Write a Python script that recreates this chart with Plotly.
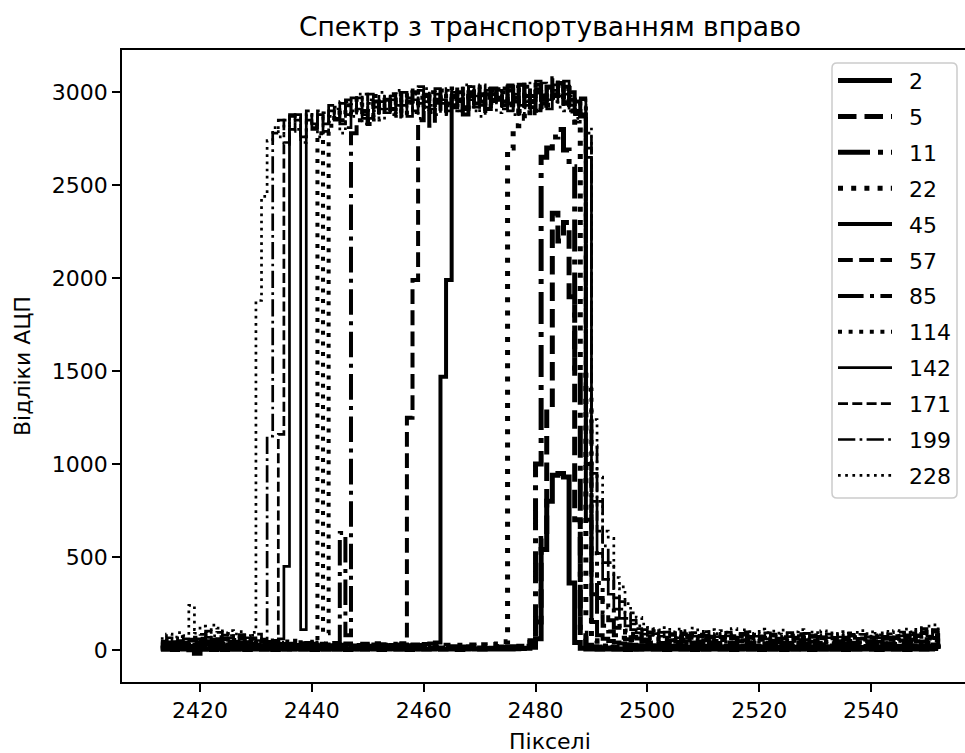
import plotly.graph_objects as go

# ---------------- data ----------------
pixels = list(range(2413, 2553))  # 140 detector pixels

labels = ["2", "5", "11", "22", "45", "57", "85", "114", "142", "171", "199", "228"]

s2 = [4, 6, 3, 7, 5, 2, -18, 4, 6, 3,
      5, 3, 6, 4, 7, 3, 5, 6, 4, 5,
      3, 6, 4, 5, 7, 4, 6, 3, 5, 4,
      6, 4, 5, 3, 6, 5, 4, 7, 5, 3,
      5, 7, 4, 6, 3, 5, 6, 4, 5, 7,
      4, 6, 5, 3, 6, 7, 5, 4, 6, 5,
      5, 6, 5, 7, 8, 10, 15, 60, 540, 800,
      940, 950, 930, 360, 40, 10, 6, 5, 4, 5,
      6, 4, 5, 3, 6, 4, 5, 7, 4, 5,
      3, 5, 6, 4, 5, 3, 6, 4, 5, 6,
      4, 6, 3, 5, 7, 4, 5, 3, 6, 4,
      5, 3, 6, 4, 5, 6, 3, 5, 4, 6,
      4, 5, 3, 6, 4, 5, 7, 4, 3, 5,
      6, 4, 5, 3, 7, 5, 4, 6, 8, 5]

s5 = [8, 10, 7, 12, 9, 11, 6, 10, 8, 12,
      9, 7, 11, 8, 10, 6, 9, 11, 7, 10,
      8, 11, 9, 7, 10, 12, 8, 9, 11, 7,
      10, 8, 12, 9, 7, 11, 9, 10, 8, 12,
      9, 11, 8, 10, 12, 9, 7, 11, 10, 8,
      11, 9, 10, 8, 12, 10, 9, 11, 8, 10,
      9, 11, 10, 12, 14, 20, 50, 150, 600, 1300,
      2350, 2200, 2300, 1900, 700, 60, 15, 10, 9, 11,
      8, 10, 9, 11, 7, 10, 8, 9, 11, 8,
      10, 7, 9, 11, 8, 10, 9, 7, 10, 9,
      8, 11, 9, 7, 10, 8, 11, 9, 8, 10,
      9, 8, 10, 11, 7, 9, 10, 8, 11, 9,
      10, 9, 7, 11, 9, 8, 10, 11, 8, 9,
      11, 8, 10, 9, 12, 10, 9, 11, 14, 10]

s11 = [12, 15, 11, 17, 13, 16, 10, 14, 18, 12,
       15, 11, 16, 13, 17, 12, 14, 16, 11, 15,
       13, 17, 12, 15, 16, 11, 14, 17, 13, 15,
       16, 12, 15, 14, 18, 13, 16, 12, 15, 17,
       14, 16, 12, 17, 15, 13, 18, 14, 16, 12,
       15, 13, 17, 14, 16, 18, 13, 15, 17, 14,
       16, 14, 18, 17, 20, 24, 40, 1000, 2650, 2700,
       2760, 2800, 2690, 2600, 1500, 90, 25, 18, 15, 16,
       14, 16, 13, 15, 17, 12, 15, 14, 16, 13,
       15, 12, 16, 14, 13, 17, 12, 15, 14, 16,
       13, 15, 12, 16, 14, 13, 17, 12, 15, 14,
       16, 13, 15, 12, 17, 14, 13, 16, 12, 15,
       14, 12, 16, 13, 15, 17, 12, 14, 16, 13,
       15, 14, 13, 17, 14, 16, 15, 18, 20, 14]

s22 = [10, 14, 11, 16, 13, 15, 20, 18, 22, 16,
       21, 18, 22, 16, 19, 14, 18, 17, 13, 16,
       17, 15, 19, 16, 20, 14, 18, 16, 19, 17,
       15, 18, 16, 20, 17, 15, 19, 17, 21, 18,
       16, 20, 17, 21, 18, 22, 19, 23, 20, 24,
       21, 25, 22, 26, 23, 27, 24, 28, 26, 30,
       32, 45, 2700, 2820, 2900, 2860, 2950, 2890, 2980, 2930,
       3000, 2960, 3020, 2900, 2820, 1500, 200, 50, 30, 22,
       18, 15, 17, 13, 16, 12, 15, 11, 14, 12,
       13, 10, 14, 12, 11, 15, 10, 13, 12, 14,
       11, 13, 10, 14, 12, 11, 15, 10, 13, 12,
       14, 11, 13, 10, 15, 12, 11, 14, 10, 13,
       12, 10, 14, 11, 13, 15, 10, 12, 14, 11,
       13, 12, 11, 15, 12, 14, 13, 16, 18, 12]

s45 = [14, 20, 16, 23, 18, 21, 28, 25, 31, 22,
       29, 25, 30, 22, 26, 20, 25, 23, 19, 22,
       24, 21, 26, 22, 27, 19, 25, 22, 26, 23,
       21, 25, 22, 28, 24, 21, 26, 23, 29, 25,
       22, 27, 24, 29, 25, 30, 27, 32, 35, 40,
       1470, 1990, 2920, 2960, 2880, 3000, 2940, 2990, 2910, 3020,
       2970, 2930, 3010, 2950, 3040, 2980, 2920, 3000, 2960, 3030,
       2980, 3050, 2940, 3000, 2950, 2880, 700, 150, 80, 60,
       48, 40, 35, 31, 28, 26, 24, 22, 25, 21,
       20, 23, 18, 24, 17, 22, 19, 23, 18, 21,
       19, 22, 17, 20, 24, 18, 21, 19, 16, 22,
       18, 16, 21, 17, 23, 15, 20, 21, 17, 19,
       17, 20, 15, 22, 18, 16, 21, 17, 19, 15,
       20, 17, 23, 18, 25, 20, 26, 22, 29, 19]

s57 = [18, 25, 20, 29, 23, 27, 35, 31, 39, 28,
       36, 32, 38, 27, 33, 25, 32, 29, 24, 27,
       30, 26, 32, 28, 34, 24, 31, 28, 33, 29,
       26, 31, 28, 35, 30, 27, 33, 29, 36, 31,
       28, 34, 30, 36, 1250, 1990, 2850, 2900, 2820, 2950,
       2890, 2970, 2930, 3000, 2910, 2980, 3020, 2940, 2990, 2960,
       3000, 2950, 3030, 2970, 2920, 3010, 2980, 3040, 2960, 3000,
       3075, 2990, 3030, 2960, 2900, 2870, 1000, 300, 180, 130,
       100, 80, 66, 58, 52, 47, 44, 40, 45, 38,
       37, 42, 34, 44, 32, 40, 36, 42, 33, 38,
       35, 41, 31, 37, 43, 33, 39, 36, 30, 40,
       34, 30, 38, 32, 42, 29, 36, 38, 31, 35,
       31, 37, 28, 39, 33, 30, 37, 32, 35, 29,
       36, 32, 41, 34, 44, 37, 46, 40, 51, 35]

s85 = [22, 30, 25, 35, 28, 33, 42, 38, 47, 34,
       44, 39, 46, 33, 40, 31, 39, 36, 29, 33,
       37, 32, 39, 34, 42, 30, 38, 34, 40, 35,
       31, 38, 630, 80, 2780, 2850, 2900, 2830, 2950, 2880,
       2960, 2910, 2990, 2870, 2950, 3000, 2920, 2980, 2900, 2960,
       3010, 2940, 2980, 3030, 2920, 2970, 3000, 2950, 2900, 2990,
       2960, 3020, 2940, 2990, 3040, 2910, 2980, 3000, 2950, 3030,
       2990, 3060, 2940, 2980, 2900, 2860, 1300, 420, 280, 200,
       160, 120, 95, 80, 70, 62, 57, 52, 58, 49,
       47, 53, 44, 55, 41, 50, 46, 53, 42, 48,
       44, 51, 40, 47, 53, 42, 49, 45, 39, 50,
       43, 38, 48, 40, 52, 37, 45, 48, 39, 44,
       39, 47, 36, 49, 42, 38, 47, 41, 44, 37,
       46, 40, 51, 43, 55, 47, 58, 50, 64, 45]

s114 = [28, 36, 30, 42, 34, 39, 50, 46, 56, 40,
        52, 46, 55, 40, 48, 37, 47, 43, 35, 39,
        44, 38, 46, 41, 50, 36, 45, 40, 2780, 90,
        2820, 2890, 2850, 2930, 2880, 2960, 2900, 2850, 2980, 2920,
        2940, 2990, 2880, 2960, 3010, 2930, 2970, 2900, 3000, 2950,
        2990, 2930, 3020, 2960, 2900, 2980, 3030, 2940, 2970, 3010,
        2950, 3000, 2930, 2980, 2900, 3030, 2960, 3010, 2940, 2990,
        2970, 3050, 2990, 2920, 2880, 2940, 1400, 520, 360, 260,
        230, 170, 130, 105, 88, 76, 70, 64, 72, 60,
        58, 65, 54, 68, 51, 62, 57, 66, 52, 60,
        54, 63, 50, 58, 66, 52, 61, 55, 49, 62,
        53, 47, 60, 50, 64, 46, 56, 60, 49, 55,
        49, 58, 45, 61, 52, 47, 59, 51, 55, 46,
        57, 50, 63, 54, 68, 59, 73, 62, 80, 56]

s142 = [35, 44, 38, 50, 42, 47, 60, 55, 68, 49,
        62, 55, 66, 48, 58, 45, 57, 51, 42, 47,
        52, 60, 450, 2870, 2880, 110, 2850, 2800, 2880, 2830,
        2900, 2850, 2940, 2880, 2970, 2910, 2860, 2990, 2920, 2950,
        2890, 2980, 2930, 3000, 2870, 2960, 2940, 2990, 2910, 3020,
        2960, 2900, 3000, 2950, 2910, 3030, 2980, 2930, 2990, 2950,
        3010, 2950, 2900, 2990, 3040, 2930, 2980, 3020, 2960, 2910,
        3040, 2980, 3060, 2930, 2890, 2960, 2650, 800, 520, 380,
        300, 220, 170, 130, 110, 92, 85, 78, 88, 74,
        70, 78, 66, 82, 62, 75, 70, 80, 64, 72,
        66, 76, 61, 70, 80, 63, 74, 67, 60, 75,
        64, 58, 72, 61, 78, 56, 68, 73, 60, 66,
        60, 70, 55, 74, 63, 58, 71, 62, 67, 57,
        69, 61, 76, 65, 82, 72, 88, 75, 96, 68]

s171 = [40, 52, 45, 60, 38, 55, 70, 64, 80, 58,
        72, 65, 78, 57, 69, 52, 66, 60, 48, 55,
        50, 1160, 2720, 2800, 2850, 2760, 2880, 2810, 2900, 2840,
        2870, 2920, 2830, 2960, 2880, 2940, 2990, 2860, 2950, 2910,
        2960, 2880, 3000, 2930, 2970, 2900, 3010, 2950, 2890, 2990,
        2940, 3020, 2960, 2900, 2990, 3030, 2920, 2980, 3010, 2940,
        2990, 2910, 3040, 2960, 2930, 3010, 2970, 2900, 3050, 2960,
        2990, 3030, 2950, 2900, 2840, 2920, 2700, 950, 640, 470,
        380, 280, 220, 170, 140, 115, 100, 92, 84, 95,
        80, 88, 76, 92, 70, 84, 79, 90, 72, 81,
        74, 86, 69, 80, 90, 71, 83, 76, 68, 85,
        73, 66, 81, 70, 88, 64, 77, 82, 69, 75,
        68, 79, 63, 84, 72, 66, 80, 71, 76, 65,
        78, 70, 86, 74, 92, 81, 99, 84, 110, 77]

s199 = [48, 66, 55, 72, 60, 58, 90, 84, 102, 76,
        95, 80, 88, 70, 83, 66, 79, 85, 58, 1150,
        2780, 2850, 2730, 2880, 2800, 2760, 2900, 2830, 2870, 2790,
        2930, 2860, 2950, 2810, 2900, 2970, 2880, 2940, 2850, 3000,
        2910, 2960, 2870, 3000, 2950, 2890, 3030, 2920, 2980, 2940,
        3000, 2880, 2970, 2930, 3020, 2960, 2900, 3040, 2950, 2990,
        3020, 2930, 2990, 2880, 3010, 2950, 2900, 3060, 2940, 2980,
        3010, 2920, 2990, 2950, 2880, 2970, 2780, 1100, 800, 560,
        470, 330, 260, 200, 160, 130, 110, 98, 104, 90,
        96, 84, 101, 88, 79, 93, 86, 99, 75, 90,
        82, 95, 78, 88, 97, 74, 90, 83, 92, 77,
        86, 72, 93, 80, 68, 89, 77, 94, 71, 85,
        79, 88, 70, 92, 76, 84, 69, 90, 81, 74,
        87, 78, 96, 82, 101, 90, 115, 95, 108, 86]

s228 = [62, 85, 70, 94, 78, 240, 110, 128, 96, 134,
        118, 92, 104, 86, 99, 74, 95, 1880, 2440, 2740,
        2810, 2760, 2850, 2790, 2870, 2730, 2880, 2820, 2760, 2890,
        2840, 2910, 2780, 2950, 2870, 2990, 2830, 2960, 2900, 2850,
        2980, 2900, 3010, 2870, 2940, 2990, 2860, 3020, 2930, 2880,
        2970, 3010, 2900, 2960, 3040, 2920, 2990, 2870, 3020, 2950,
        2890, 3000, 2940, 3030, 2880, 2980, 3050, 2910, 2990, 3020,
        2950, 3040, 2900, 2980, 2860, 2930, 2810, 1240, 930, 640,
        600, 390, 340, 250, 200, 175, 140, 122, 115, 108,
        120, 98, 112, 104, 92, 118, 100, 95, 110, 88,
        104, 96, 115, 90, 108, 99, 86, 112, 94, 102,
        91, 107, 84, 98, 110, 89, 96, 81, 103, 92,
        86, 99, 90, 78, 95, 104, 88, 97, 82, 100,
        94, 105, 89, 112, 98, 120, 106, 128, 135, 102]

series = [s2, s5, s11, s22, s45, s57, s85, s114, s142, s171, s199, s228]

x_ticks = [2420, 2440, 2460, 2480, 2500, 2520, 2540]
y_ticks = [0, 500, 1000, 1500, 2000, 2500, 3000]

# ---------------- styles ----------------
W_THICK, W_MED, W_THIN = 5.0, 4.0, 2.7


def dashes(kind, w):
    if kind == "solid":
        return "solid"
    if kind == "dash":
        return f"{3.7*w:.1f}px,{1.6*w:.1f}px"
    if kind == "dashdot":
        return f"{6.4*w:.1f}px,{1.6*w:.1f}px,{1.0*w:.1f}px,{1.6*w:.1f}px"
    return f"{1.0*w:.1f}px,{1.65*w:.1f}px"


kinds = ["solid", "dash", "dashdot", "dot"] * 3
widths = [W_THICK] * 4 + [W_MED] * 4 + [W_THIN] * 4

FONT = "DejaVu Sans"

fig = go.Figure()
for lab, ys, k, w in zip(labels, series, kinds, widths):
    fig.add_trace(go.Scatter(
        x=pixels, y=ys, mode="lines", name=lab, showlegend=False,
        line=dict(color="black", width=w, dash=dashes(k, w), shape="hv"),
        hoverinfo="skip"))

# ---------------- geometry ----------------
L, R, T, B = 122, 965, 50, 682
FW, FH = 965, 753


def X(px):
    return (px - L) / (R - L)


def Y(py):
    return (B - py) / (B - T)


fig.update_layout(
    width=FW, height=FH,
    margin=dict(l=L, r=FW - R, t=T, b=FH - B, pad=0),
    paper_bgcolor="white", plot_bgcolor="white",
    font=dict(family=FONT, size=22, color="black"),
    showlegend=False,
    xaxis=dict(range=[2406.05, 2556.8], tickvals=x_ticks, ticks="outside",
               ticklen=8, tickwidth=1.8, tickcolor="black", showline=True,
               linecolor="black", linewidth=1.8, mirror=True, showgrid=False,
               zeroline=False, tickfont=dict(size=22, family=FONT)),
    yaxis=dict(range=[-172.1, 3227.5], tickvals=y_ticks, ticks="outside",
               ticklen=8, tickwidth=1.8, tickcolor="black", showline=True,
               linecolor="black", linewidth=1.8, mirror=False, showgrid=False,
               zeroline=False, tickfont=dict(size=22, family=FONT)),
)

# titles
anns = [
    dict(text="Спектр з транспортуванням вправо", x=X(549.5), y=Y(26),
         xref="paper", yref="paper", xanchor="center", yanchor="middle",
         showarrow=False, font=dict(size=26.5, family=FONT)),
    dict(text="Пікселі", x=X(549.5), y=Y(741), xref="paper", yref="paper",
         xanchor="center", yanchor="middle", showarrow=False,
         font=dict(size=22, family=FONT)),
    dict(text="Відліки АЦП", x=X(22), y=Y(366), xref="paper", yref="paper",
         xanchor="center", yanchor="middle", textangle=-90, showarrow=False,
         font=dict(size=22, family=FONT)),
]

# custom legend (matplotlib style)
x0, x1, y0, y1, r = 832, 957, 63, 498, 5
path = (f"M {X(x0+r)},{Y(y0)} L {X(x1-r)},{Y(y0)} Q {X(x1)},{Y(y0)} {X(x1)},{Y(y0+r)} "
        f"L {X(x1)},{Y(y1-r)} Q {X(x1)},{Y(y1)} {X(x1-r)},{Y(y1)} "
        f"L {X(x0+r)},{Y(y1)} Q {X(x0)},{Y(y1)} {X(x0)},{Y(y1-r)} "
        f"L {X(x0)},{Y(y0+r)} Q {X(x0)},{Y(y0)} {X(x0+r)},{Y(y0)} Z")
shapes = [dict(type="path", path=path, xref="paper", yref="paper",
               fillcolor="rgba(255,255,255,0.8)",
               line=dict(color="#cccccc", width=1.5), layer="above")]
for i, (lab, k, w) in enumerate(zip(labels, kinds, widths)):
    yc = 80.5 + i * 35.9
    shapes.append(dict(type="line", xref="paper", yref="paper",
                       x0=X(838), x1=X(892), y0=Y(yc), y1=Y(yc),
                       line=dict(color="black", width=w, dash=dashes(k, w)),
                       layer="above"))
    anns.append(dict(text=lab, x=X(907), y=Y(yc + 1), xref="paper", yref="paper",
                     xanchor="left", yanchor="middle", showarrow=False,
                     font=dict(size=22, family=FONT)))

fig.update_layout(annotations=anns, shapes=shapes)

fig.write_html("out.html")
